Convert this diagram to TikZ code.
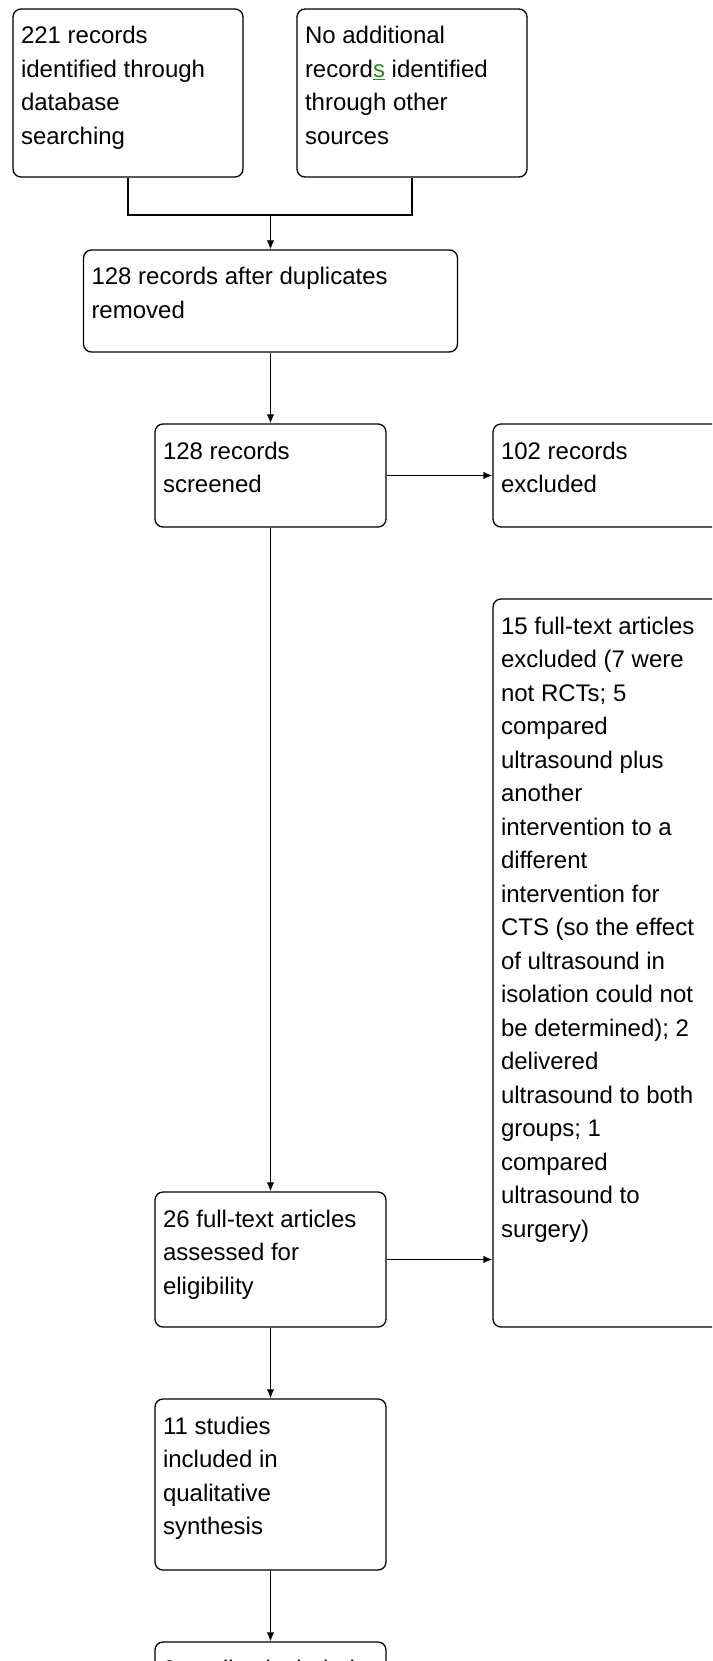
\documentclass[tikz,border=0pt]{standalone}
\usepackage{fontspec}
\setmainfont{Liberation Sans}
\usepackage{tikz}
\usetikzlibrary{positioning, arrows.meta, calc}
\definecolor{spellgreen}{RGB}{34,139,34}

\begin{document}
\begin{tikzpicture}[
  x=1pt, y=-1pt,
  fbox/.style 2 args={draw, line width=1.3pt, rounded corners=8pt, inner xsep=8pt, inner ysep=0pt,
               font=\fontsize{24}{33.5}\selectfont,
               execute at begin node={\begin{minipage}[c][#2][t]{#1}\raggedright\rule{0pt}{35pt}},
               execute at end node={\end{minipage}}},
  flow/.style={line width=1.3pt},
  arr/.style={flow, -{Latex[length=9pt,width=7.5pt]}},
]
  \useasboundingbox (0,0) rectangle (712,1661);
  \clip (0,0) rectangle (712,1661);

  % Identification
  \node[fbox={214pt}{168pt}] (ident) at (128,93) {221 records\\identified through\\database\\searching};
  \node[fbox={214pt}{168pt}] (other) at (412,93) {No additional\\record\textcolor{spellgreen}{\underline{s}} identified\\through other\\sources};
  \node[fbox={358pt}{102pt}] (dedup) at (270.5,301) {128 records after duplicates\\removed};

  % Screening and eligibility
  \node[fbox={215pt}{103pt}] (screen) at (270.5,475.5) {128 records\\screened};
  \node[fbox={215pt}{103pt}] (excl) at (608.5,475.5) {102 records\\excluded};
  \node[fbox={215pt}{728pt}] (ftexcl) at (608.5,963) {15 full-text articles\\excluded (7 were\\not RCTs; 5\\compared\\ultrasound plus\\another\\intervention to a\\different\\intervention for\\CTS (so the effect\\of ultrasound in\\isolation could not\\be determined); 2\\delivered\\ultrasound to both\\groups; 1\\compared\\ultrasound to\\surgery)};
  \node[fbox={215pt}{135pt}] (elig) at (270.5,1259.5) {26 full-text articles\\assessed for\\eligibility};

  % Included
  \node[fbox={215pt}{171pt}] (qual) at (270.5,1484.5) {11 studies\\included in\\qualitative\\synthesis};
  \node[fbox={215pt}{171pt}] (quant) at (270.5,1727.5) {9 studies included in};

  % connectors
  \coordinate (merge) at (270.5,215);
  \draw[flow] (ident.south) |- (merge) -| (other.south);
  \draw[arr] (merge) -- (dedup.north);
  \foreach \a/\b in {dedup/screen, screen/elig, elig/qual, qual/quant} { \draw[arr] (\a.south) -- (\b.north); }
  \draw[arr] (screen.east) -- (excl.west);
  \draw[arr] (elig.east) -- (elig.east -| ftexcl.west);
\end{tikzpicture}
\end{document}
